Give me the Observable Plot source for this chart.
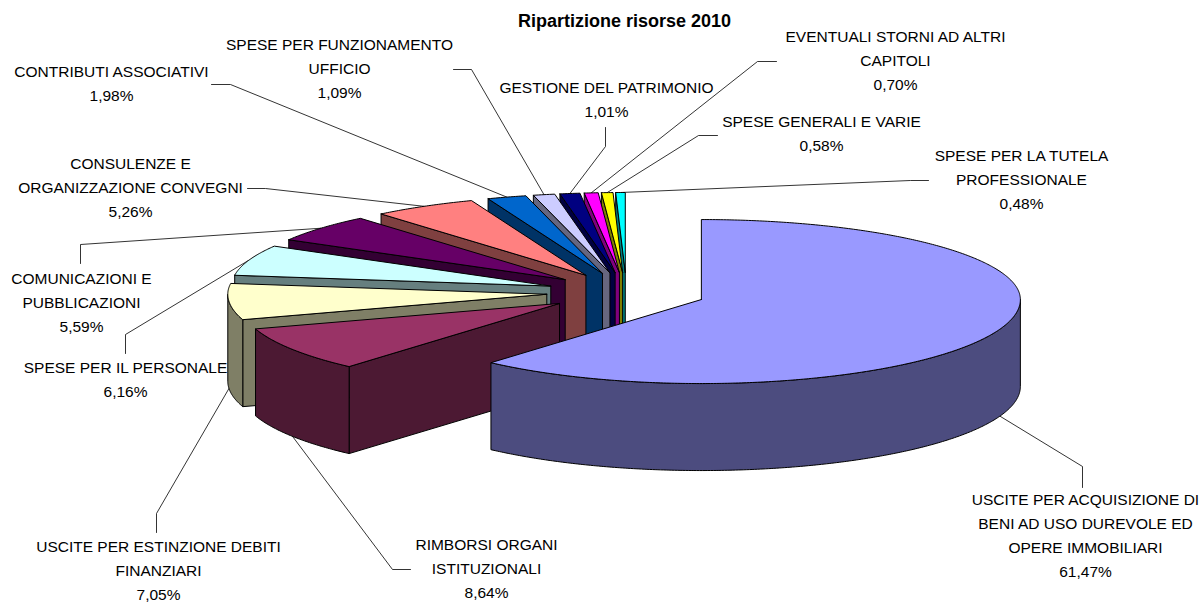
<!DOCTYPE html>
<html><head><meta charset="utf-8">
<style>html,body{margin:0;padding:0;background:#fff}svg{display:block}</style>
<script src="https://cdn.jsdelivr.net/npm/d3@7"></script>
<script src="https://cdn.jsdelivr.net/npm/@observablehq/plot@0.6"></script>
</head><body><div id="chart"></div>
<script>
const chartTitle = "Ripartizione risorse 2010";
const categories = [
  "USCITE PER ACQUISIZIONE DI\nBENI AD USO DUREVOLE ED\nOPERE IMMOBILIARI",
  "RIMBORSI ORGANI\nISTITUZIONALI",
  "USCITE PER ESTINZIONE DEBITI\nFINANZIARI",
  "SPESE PER IL PERSONALE",
  "COMUNICAZIONI E\nPUBBLICAZIONI",
  "CONSULENZE E\nORGANIZZAZIONE CONVEGNI",
  "CONTRIBUTI ASSOCIATIVI",
  "SPESE PER FUNZIONAMENTO\nUFFICIO",
  "GESTIONE DEL PATRIMONIO",
  "EVENTUALI STORNI AD ALTRI\nCAPITOLI",
  "SPESE GENERALI E VARIE",
  "SPESE PER LA TUTELA\nPROFESSIONALE"
];
const values = [61.47, 8.64, 7.05, 6.16, 5.59, 5.26, 1.98, 1.09, 1.01, 0.70, 0.58, 0.48];
const topColors = ["#9999FF","#993366","#FFFFCC","#CCFFFF","#660066","#FF8080","#0066CC","#CCCCFF","#000080","#FF00FF","#FFFF00","#00FFFF"];
const wallColors = ["#4C4C7F","#4C1933","#7F7F66","#667F7F","#330033","#7F4040","#003366","#66667F","#000040","#7F007F","#7F7F00","#007F7F"];
// label centre (x) and vertical middle of the text block (y)
const labelX = [1085, 486, 158, 125, 81, 130, 111, 339, 606, 895, 821, 1021];
const labelY = [536, 569, 571, 380, 303, 188, 84, 69, 100, 61, 134, 180];
// leader elbows, from the label towards the slice
const leaderElbows = [
  [[1082,487],[1082,466]],
  [[410,569],[392,569]],
  [[156,532],[156,513]],
  [[125,353],[125,334]],
  [[80,263],[80,244]],
  [[247,188],[265,188]],
  [[211,84],[230,84]],
  [[453,69],[471,69]],
  [[605,127],[605,146]],
  [[776,61],[757,61]],
  [[717,135],[698,135]],
  [[928,180],[910,180]]
];
// pie geometry
const cx = 626, cy = 292, rx = 319, ryBack = 80, ryFront = 84, explodeX = 80, explodeY = 20, depth = 87;

const total = d3.sum(values);
const rad = d => d * Math.PI / 180;
let acc = 0;
const slices = values.map((v, i) => {
  const start = acc / total * 360; acc += v;
  const end = acc / total * 360, mid = (start + end) / 2;
  return {i, v, start, end, mid,
    ax: cx + explodeX * Math.sin(rad(mid)), ay: cy - explodeY * Math.cos(rad(mid))};
});
const rim = (s, a, dz = 0) => {
  const c = Math.cos(rad(a));
  return {x: s.ax + rx * Math.sin(rad(a)), y: s.ay - (c < 0 ? ryFront : ryBack) * c + dz};
};
const arc = (s, a0, a1, dz = 0) => {
  const n = Math.max(2, Math.ceil((a1 - a0) * 2));
  return d3.range(n + 1).map(k => rim(s, a0 + (a1 - a0) * k / n, dz));
};
const close = p => [...p, p[0]];

const leaders = slices.map(s => {
  const dz = s.mid > 90 && s.mid < 270 ? depth : 0;
  const end = rim(s, s.mid, dz);
  return [...leaderElbows[s.i].map(([x, y]) => ({x, y})), end];
});

const pieMarks = [];
[...slices].reverse().forEach(s => {
  const style = {x: "x", y: "y", stroke: "#000", strokeWidth: 1, strokeLinejoin: "round"};
  const wall = {...style, fill: wallColors[s.i]};
  if (s.start > 180) {
    const r0 = rim(s, s.start);
    pieMarks.push(Plot.line(close([r0, {x: s.ax, y: s.ay}, {x: s.ax, y: s.ay + depth}, {x: r0.x, y: r0.y + depth}]), wall));
  }
  const a0 = Math.max(s.start, 90), a1 = Math.min(s.end, 270);
  if (a1 > a0) {
    pieMarks.push(Plot.line(close([...arc(s, a0, a1), ...arc(s, a0, a1, depth).reverse()]), wall));
  }
  pieMarks.push(Plot.line(close([{x: s.ax, y: s.ay}, ...arc(s, s.start, s.end)]), {...style, fill: topColors[s.i]}));
});

const labels = slices.map(s => ({
  text: categories[s.i] + "\n" + s.v.toFixed(2).replace(".", ",") + "%",
  x: labelX[s.i], y: labelY[s.i] - 3
}));

const plot = Plot.plot({
  width: 1201, height: 603, margin: 0,
  x: {domain: [0, 1201], range: [0, 1201], axis: null},
  y: {domain: [0, 603], range: [0, 603], axis: null},
  style: {background: "#fff"},
  marks: [
    ...leaders.map(l => Plot.line(l, {x: "x", y: "y", stroke: "#000", strokeWidth: 0.8})),
    ...pieMarks,
    Plot.text(labels, {x: "x", y: "y", text: "text", fontFamily: "Liberation Sans", fontSize: 15.5, lineHeight: 1.55, fill: "#000", textAnchor: "middle", style: {letterSpacing: "-0.46px"}}),
    Plot.text([chartTitle], {x: [624], y: [21], text: d => d, fontFamily: "Liberation Sans", fontWeight: "bold", fontSize: 18, fill: "#000", style: {letterSpacing: "0.35px"}})
  ]
});
document.getElementById("chart").append(plot);
</script></body></html>
